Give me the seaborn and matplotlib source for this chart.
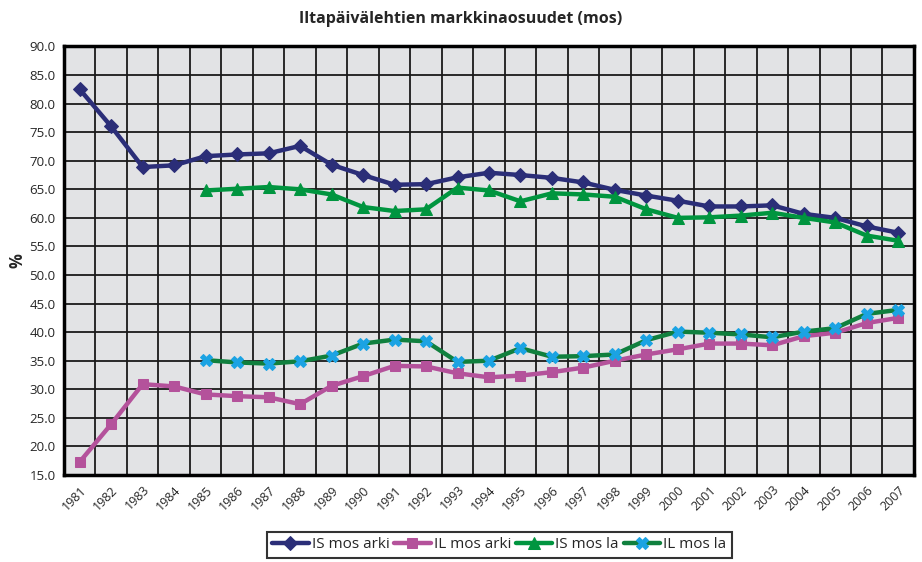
import numpy as np
import pandas as pd
import seaborn as sns
import matplotlib.pyplot as plt

years = list(range(1981, 2008))

is_arki = [82.5, 76.0, 68.9, 69.2, 70.8, 71.1, 71.3, 72.6, 69.3, 67.5, 65.8, 65.9,
           67.1, 67.9, 67.5, 67.0, 66.2, 64.9, 63.9, 63.0, 62.0, 62.0, 62.2, 60.7,
           60.0, 58.5, 57.4]
il_arki = [17.3, 23.9, 30.9, 30.5, 29.1, 28.8, 28.6, 27.4, 30.6, 32.3, 34.1, 34.0,
           32.8, 32.1, 32.4, 33.0, 33.8, 35.0, 36.1, 37.0, 38.0, 38.0, 37.7, 39.3,
           39.9, 41.6, 42.5]
is_la = [np.nan] * 4 + [64.8, 65.1, 65.4, 65.0, 64.1, 61.9, 61.2, 61.5, 65.3, 64.8,
                        62.9, 64.3, 64.1, 63.7, 61.5, 60.0, 60.1, 60.4, 60.9, 60.0,
                        59.2, 56.9, 56.0]
il_la = [np.nan] * 4 + [35.1, 34.7, 34.5, 34.9, 35.9, 38.0, 38.7, 38.4, 34.8, 35.0,
                        37.2, 35.7, 35.8, 36.1, 38.6, 40.1, 39.9, 39.6, 39.1, 40.1,
                        40.7, 43.2, 43.9]

df = pd.DataFrame({'year': years, 'IS mos arki': is_arki, 'IL mos arki': il_arki,
                   'IS mos la': is_la, 'IL mos la': il_la})

sns.set_style('white')
plt.rcParams['font.family'] = ['Open Sans', 'DejaVu Sans']

fig = plt.figure(figsize=(9.22, 5.62), dpi=100)
ax = fig.add_axes([0.0694, 0.1548, 0.9219, 0.7625])
ax.set_facecolor('#E2E3E5')

styles = [
    ('IS mos arki', '#2B2E78', 'D', '#2B2E78', 7.5),
    ('IL mos arki', '#B4529B', 's', '#B4529B', 7.5),
    ('IS mos la', '#00953F', '^', '#00953F', 8.5),
    ('IL mos la', '#10803E', 'X', '#1BA3E3', 8.5),
]
for name, col, mk, mcol, ms in styles:
    sns.lineplot(data=df, x='year', y=name, ax=ax, color=col, lw=3.2,
                 marker=mk, markersize=ms, markerfacecolor=mcol,
                 markeredgecolor=mcol, label=name)

ax.set_xlim(1980.5, 2007.5)
ax.set_ylim(15, 90)
yt = np.arange(15, 90.1, 5)
ax.set_yticks(yt)
ax.set_yticklabels([f'{v:.1f}' for v in yt], fontsize=9.5)
ax.set_xticks(years)
ax.set_xticklabels([str(y) for y in years], rotation=45, ha='right',
                   rotation_mode='anchor', fontsize=9)
ax.set_xticks(np.arange(1980.5, 2008, 1), minor=True)
ax.tick_params(axis='x', which='major', length=0, pad=6)
ax.tick_params(axis='x', which='minor', length=4, width=1.2, color='black')
ax.tick_params(axis='y', which='major', length=4, width=1.2, color='black', pad=2)

ax.grid(True, which='major', axis='y', color='#1a1a1a', lw=1.3)
ax.grid(True, which='minor', axis='x', color='#1a1a1a', lw=1.3)
ax.set_axisbelow(True)
for s in ax.spines.values():
    s.set_color('black')
    s.set_linewidth(2.5)

ax.set_xlabel('')
ax.set_ylabel('%', fontsize=12, fontweight='bold', labelpad=2)
fig.suptitle('Iltapäivälehtien markkinaosuudet (mos)', x=0.5, y=0.98,
             fontsize=11.5, fontweight='bold')

leg = ax.legend(loc='upper center', bbox_to_anchor=(0.512, -0.115), ncol=4,
                frameon=True, fancybox=False, fontsize=11, handlelength=2.4,
                handletextpad=0.2, columnspacing=0.3, borderpad=0.35,
                edgecolor='black')
leg.get_frame().set_linewidth(1.5)

fig.savefig('out.png', dpi=100)
